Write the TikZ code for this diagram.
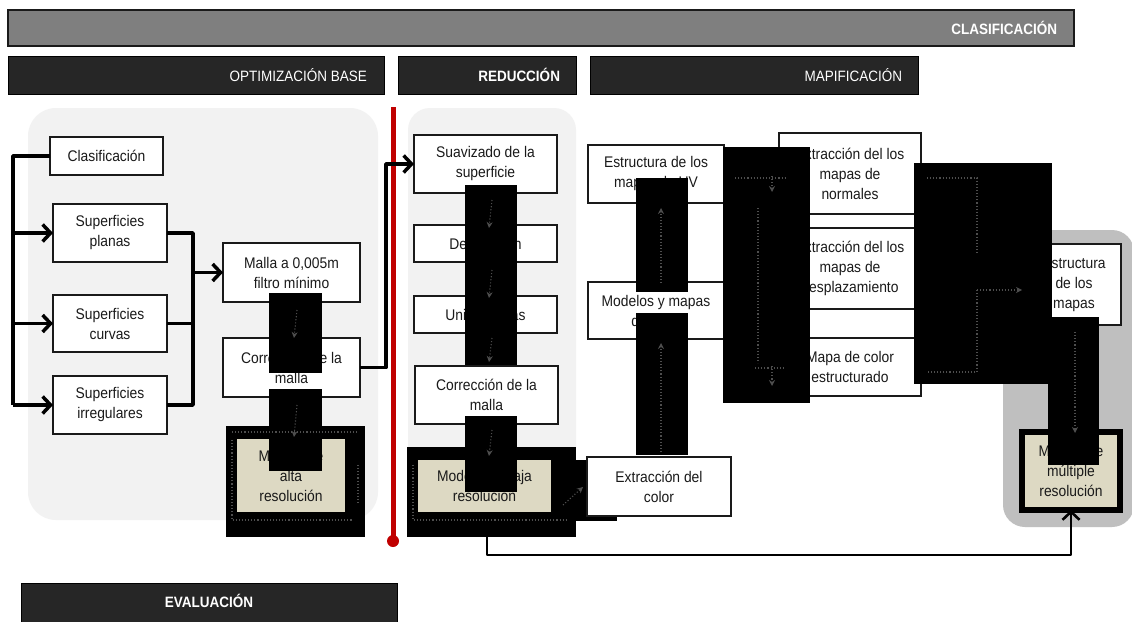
\documentclass[tikz,border=0pt]{standalone}
\usepackage{fontspec}
\setmainfont{Liberation Sans}[FakeStretch=0.9]
\usetikzlibrary{arrows.meta}
\definecolor{panel}{HTML}{F2F2F2}
\definecolor{panelgray}{HTML}{BFBFBF}
\definecolor{bardark}{HTML}{262626}
\definecolor{bargray}{HTML}{7F7F7F}
\definecolor{ink}{HTML}{1A1A1A}
\definecolor{beige}{HTML}{DDD9C3}
\definecolor{redline}{HTML}{C00000}
\definecolor{ghostgray}{HTML}{4E4E4E}

\begin{document}
\begin{tikzpicture}[x=1pt,y=-1pt,
  every node/.style={inner sep=0pt, outer sep=0pt},
  boxtext/.style={font=\fontsize{15.4}{20}\selectfont, text=ink, align=center},
  box/.style={boxtext, draw=ink, line width=2.2pt, fill=white},
  beigebox/.style={boxtext, fill=beige},
  multibox/.style={boxtext, fill=beige, draw=black, line width=6pt},
  header/.style={fill=bardark, draw=black, line width=1pt},
  headtext/.style={font=\fontsize{15}{18}\selectfont, text=white, anchor=east},
  conn/.style={draw=black, line width=3.5pt, line join=round},
  arr/.style={-{Straight Barb[length=8pt,width=17pt]}},
  blot/.style={fill=black},
  ghost/.style={draw=ghostgray, dotted, line width=1.1pt},
  ghostarr/.style={-{Stealth[length=6pt,width=6pt]}},
]
\useasboundingbox (0,0) rectangle (1132,621);
\fill[white] (0,0) rectangle (1132,621);

% background panels
\fill[panel, rounded corners=28pt] (28,108) rectangle (378,520);
\fill[panel, rounded corners=22pt] (408,108) rectangle (576,470);
\fill[panelgray, rounded corners=22pt] (1003,230) rectangle (1134,527);

% stage bars
\filldraw[fill=bargray, draw=ink, line width=1.5pt] (8,10) rectangle (1074,46);
\node[headtext, font=\fontsize{15}{18}\selectfont\bfseries] (hclas) at (1057,28) {CLASIFICACIÓN};
\filldraw[header] (8,56) rectangle (384,94);
\node[headtext] (hopt) at (367,75) {OPTIMIZACIÓN BASE};
\filldraw[header] (398,56) rectangle (576,94);
\node[headtext, font=\fontsize{15}{18}\selectfont\bfseries] (hred) at (560,75) {REDUCCIÓN};
\filldraw[header] (590,56) rectangle (918,94);
\node[headtext] (hmap) at (902,75) {MAPIFICACIÓN};
\filldraw[header] (21,583) rectangle (397,630);
\node[font=\fontsize{15}{18}\selectfont\bfseries, text=white] (heval) at (209,601) {EVALUACIÓN};

% red divider
\draw[redline, line width=5pt] (393,107) -- (393,541);
\fill[redline] (393,541) circle (6pt);

% boxes: base optimisation
\node[box, minimum width=113pt, minimum height=38pt] (clas) at (106.5,156) {Clasificación};
\node[box, minimum width=114pt, minimum height=58pt] (plan) at (110,233) {Superficies\\planas};
\node[box, minimum width=114pt, minimum height=57pt] (curv) at (110,323.5) {Superficies\\curvas};
\node[box, minimum width=114pt, minimum height=58pt] (irr) at (110,405) {Superficies\\irregulares};
\node[box, minimum width=137pt, minimum height=59pt] (malla) at (291.5,272.5) {Malla a 0,005m\\filtro mínimo};
\node[box, minimum width=137pt, minimum height=59pt] (corrA) at (291.5,367.5) {Corrección de la\\malla};
\fill[blot] (226,426) rectangle (365,537);
\node[beigebox, minimum width=108pt, minimum height=73pt] (alta) at (291,475.5) {Modelo de\\alta\\resolución};

% boxes: reduction
\node[box, minimum width=143pt, minimum height=58pt] (suav) at (485.5,164) {Suavizado de la\\superficie};
\node[box, minimum width=143pt, minimum height=37pt] (deci) at (485.5,243.5) {Decimación};
\node[box, minimum width=143pt, minimum height=37pt] (union) at (485.5,314.5) {Unión mallas};
\node[box, minimum width=143pt, minimum height=58pt] (corrB) at (486.5,395) {Corrección de la\\malla};
\fill[blot] (407,447) rectangle (576,537);
\fill[blot] (575,460) rectangle (617,521);
\node[beigebox, minimum width=133pt, minimum height=52pt] (baja) at (484.5,486) {Modelo de baja\\resolución};
\coordinate (bajaout) at (487,537);

% boxes: mapping
\node[box, minimum width=136pt, minimum height=58pt] (estuv) at (656,174) {Estructura de los\\mapas de UV};
\node[box, minimum width=136pt, minimum height=57pt] (modmap) at (656,310.5) {Modelos y mapas\\de color};
\node[box, minimum width=142pt, minimum height=81pt] (extnorm) at (850,173.5) {Extracción del los\\mapas de\\normales};
\node[box, minimum width=142pt, minimum height=81pt] (extdesp) at (850,268.5) {Extracción del los\\mapas de\\desplazamiento};
\node[box, minimum width=142pt, minimum height=58pt] (mapcol) at (850,367) {Mapa de color\\estructurado};
\node[box, minimum width=94pt, minimum height=81pt] (estmap) at (1074,284.5) {Estructura\\de los\\mapas};
\node[multibox, minimum width=98pt, minimum height=78pt] (multi) at (1071,471) {Modelo de\\múltiple\\resolución};

% connectors
\coordinate (tl) at (13,0);
\coordinate (jr) at (193,0);
\coordinate (jx) at (386,0);
\coordinate (low) at (487,555);
\draw[conn] (clas.west) -- (clas.west -| tl) -- (irr.west -| tl);
\draw[conn, arr] (plan.west -| tl) -- (plan.west);
\draw[conn, arr] (curv.west -| tl) -- (curv.west);
\draw[conn, arr] (irr.west -| tl) -- (irr.west);
\draw[conn] (plan.east) -- (plan.east -| jr) -- (irr.east -| jr) -- (irr.east);
\draw[conn] (curv.east) -- (curv.east -| jr);
\draw[conn, arr] (malla.west -| jr) -- (malla.west);
\draw[conn, arr] (corrA.east) -- (corrA.east -| jx) -- (suav.west -| jx) -- (suav.west);
\draw[conn, line width=2.6pt, -{Straight Barb[length=8pt,width=17pt]}]
  (bajaout) -- (low) -- (low -| multi.south) -- (multi.south);

% dark overlays along the flow
\fill[blot] (269,293) rectangle (322,373);
\fill[blot] (269,389) rectangle (322,471);
\fill[blot] (465,185) rectangle (517,365);
\fill[blot] (465,416) rectangle (517,492);
\fill[blot] (636,178) rectangle (688,292);
\fill[blot] (636,313) rectangle (688,455);
\fill[blot] (723,147) rectangle (810,403);
\fill[blot] (914,163) rectangle (1052,384);
\fill[blot] (1048,317) rectangle (1099,465);

% faint dotted traces inside the overlays
\draw[ghost, ghostarr] (297,310) -- (294,338);
\draw[ghost, ghostarr] (297,405) -- (294,437);
\draw[ghost, ghostarr] (492,200) -- (489,228);
\draw[ghost, ghostarr] (492,270) -- (489,298);
\draw[ghost, ghostarr] (492,338) -- (489,362);
\draw[ghost, ghostarr] (492,430) -- (489,456);
\draw[ghost, ghostarr] (661,283) -- (661,208);
\draw[ghost, ghostarr] (661,452) -- (661,343);
\draw[ghost] (735,178) -- (785,178);
\draw[ghost, ghostarr] (772,176) -- (772,192);
\draw[ghost] (758,208) -- (758,363);
\draw[ghost] (755,368) -- (785,368);
\draw[ghost, ghostarr] (772,366) -- (772,386);
\draw[ghost] (927,178) -- (977,178) -- (977,255);
\draw[ghost] (977,290) -- (977,372) -- (927,372);
\draw[ghost, ghostarr] (977,290) -- (1022,290);
\draw[ghost, ghostarr] (1075,332) -- (1075,433);
\draw[ghost] (232,432) -- (358,432);
\draw[ghost] (232,440) -- (232,520) -- (352,520);
\draw[ghost] (358,465) -- (358,505);
\draw[ghost] (413,465) -- (413,520) -- (566,520);
\draw[ghost, ghostarr] (563,505) -- (583,487);

% box drawn over the last overlay
\node[box, minimum width=144pt, minimum height=59pt] (extcol) at (659,486.5) {Extracción del\\color};
\end{tikzpicture}
\end{document}
